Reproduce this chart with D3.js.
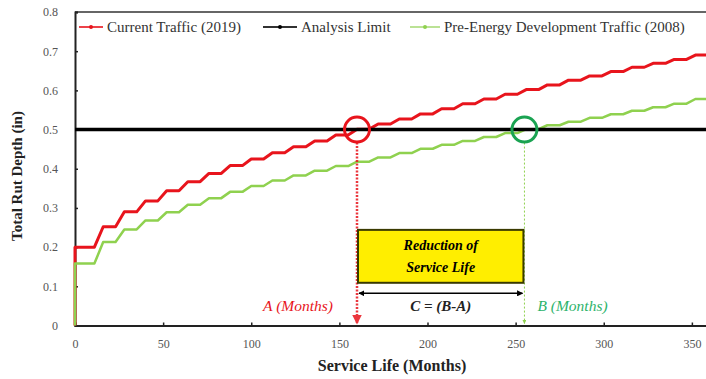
<!DOCTYPE html>
<html>
<head>
<meta charset="utf-8">
<script src="https://cdn.jsdelivr.net/npm/d3@7"></script>
<style>
  body { margin: 0; background: #fff; }
  svg text { font-family: "Liberation Serif", "Times New Roman", "DejaVu Serif", serif; }
</style>
</head>
<body>
<div id="chart"></div>
<script>
// start month of each yearly step
const months = [0, 12, 24, 36, 48, 60, 72, 84, 96, 108, 120, 132, 144, 156, 168,
  180, 192, 204, 216, 228, 240, 252, 264, 276, 288, 300, 312, 324, 336, 348];

// rut depth (in) reached in each year
const currentTraffic = [0.200, 0.252, 0.290, 0.318, 0.344, 0.367, 0.388, 0.408, 0.425, 0.441,
  0.456, 0.471, 0.486, 0.501, 0.514, 0.527, 0.540, 0.553, 0.566, 0.578,
  0.590, 0.602, 0.614, 0.626, 0.637, 0.648, 0.659, 0.669, 0.679, 0.690];
const preEnergyTraffic = [0.158, 0.213, 0.245, 0.268, 0.289, 0.308, 0.325, 0.341, 0.356, 0.370,
  0.383, 0.395, 0.407, 0.418, 0.429, 0.440, 0.451, 0.461, 0.471, 0.481,
  0.491, 0.501, 0.511, 0.520, 0.530, 0.539, 0.548, 0.557, 0.566, 0.578];

const analysisLimit = 0.5;
const monthA = 160;   // current traffic reaches the limit
const monthB = 255;   // pre-energy traffic reaches the limit
const endMonth = 360;

const xTicks = [0, 50, 100, 150, 200, 250, 300, 350];
const yTicks = [0, 0.1, 0.2, 0.3, 0.4, 0.5, 0.6, 0.7, 0.8];

const legendLabels = ["Current Traffic (2019)", "Analysis Limit", "Pre-Energy Development Traffic (2008)"];

const width = 706, height = 379;
const marge = { top: 12, left: 75, bottom: 53.5 };
const red = "#e8141c", green = "#8fd14f", greenDark = "#1aa352";
const serif = '"Liberation Serif", "Times New Roman", "DejaVu Serif", serif';

const svg = d3.select("#chart").append("svg").attr("width", width).attr("height", height)
  .attr("font-family", serif);

const x = d3.scaleLinear().domain([0, 360]).range([marge.left, marge.left + 360 * 1.7625]);
const y = d3.scaleLinear().domain([0, 0.8]).range([height - marge.bottom, marge.top]);

// frame top
svg.append("line").attr("x1", x(0)).attr("x2", width).attr("y1", y(0.8)).attr("y2", y(0.8))
  .attr("stroke", "#333").attr("stroke-width", 1.5);

// axes
const gx = svg.append("g").attr("transform", `translate(0,${y(0)})`)
  .call(d3.axisBottom(x).tickValues(xTicks).tickSize(-3).tickPadding(14).tickFormat(d3.format("d")));
const gy = svg.append("g").attr("transform", `translate(${x(0)},0)`)
  .call(d3.axisLeft(y).tickValues(yTicks).tickSize(-3).tickPadding(17).tickFormat(d => d === 0 ? "0" : d3.format(".1f")(d)));
[gx, gy].forEach(g => {
  g.attr("font-family", serif);
  g.select(".domain").attr("stroke", "#222").attr("stroke-width", 2);
  g.selectAll(".tick line").attr("stroke", "#222").attr("stroke-width", 1.5);
  g.selectAll(".tick text").attr("fill", "#555").attr("font-size", 12);
});

// step series with a sloped ramp at each yearly step
function stepPoints(vals) {
  const pts = [[0, 0], [months[0], vals[0]]];
  for (let i = 1; i < vals.length; i++) {
    pts.push([months[i] - 1, vals[i - 1]]);
    pts.push([months[i] + 4, vals[i]]);
  }
  pts.push([endMonth, vals[vals.length - 1]]);
  return pts;
}
const line = d3.line().x(d => x(d[0])).y(d => y(d[1]));

svg.append("path").datum(stepPoints(currentTraffic)).attr("d", line)
  .attr("fill", "none").attr("stroke", red).attr("stroke-width", 3).attr("stroke-linejoin", "round");
svg.append("path").datum(stepPoints(preEnergyTraffic)).attr("d", line)
  .attr("fill", "none").attr("stroke", green).attr("stroke-width", 2.5).attr("stroke-linejoin", "round");

// analysis limit
svg.append("line").attr("x1", x(0)).attr("x2", width).attr("y1", y(analysisLimit)).attr("y2", y(analysisLimit))
  .attr("stroke", "#000").attr("stroke-width", 3.5);

// arrow heads
const defs = svg.append("defs");
[["arrRed", red], ["arrGreen", green], ["arrBlack", "#000"]].forEach(([id, c]) => {
  defs.append("marker").attr("id", id).attr("viewBox", "0 0 10 10").attr("refX", 9).attr("refY", 5)
    .attr("markerWidth", 4).attr("markerHeight", 4).attr("orient", "auto-start-reverse")
    .append("path").attr("d", "M0,0L10,5L0,10z").attr("fill", c);
});

// dropped lines to the x axis
svg.append("line").attr("x1", x(monthA)).attr("x2", x(monthA)).attr("y1", y(analysisLimit) + 13).attr("y2", y(0) - 2)
  .attr("stroke", red).attr("stroke-width", 2.5).attr("stroke-dasharray", "2,1.5").attr("opacity", 0.85)
  .attr("marker-end", "url(#arrRed)");
svg.append("line").attr("x1", x(monthB)).attr("x2", x(monthB)).attr("y1", y(analysisLimit) + 13).attr("y2", y(0) - 2)
  .attr("stroke", green).attr("stroke-width", 1).attr("stroke-dasharray", "2,2").attr("marker-end", "url(#arrGreen)");

svg.append("circle").attr("cx", x(monthA)).attr("cy", y(analysisLimit)).attr("r", 12.5)
  .attr("fill", "none").attr("stroke", red).attr("stroke-width", 3);
svg.append("circle").attr("cx", x(monthB)).attr("cy", y(analysisLimit)).attr("r", 12.5)
  .attr("fill", "none").attr("stroke", greenDark).attr("stroke-width", 3);

// reduction box
svg.append("rect").attr("x", x(monthA) + 1).attr("y", y(0.244))
  .attr("width", x(monthB) - x(monthA) - 2).attr("height", y(0.109) - y(0.244))
  .attr("fill", "#ffee00").attr("stroke", "#3a3a00").attr("stroke-width", 2);
const midAB = (x(monthA) + x(monthB)) / 2;
svg.append("text").attr("x", midAB).attr("y", y(0.193)).attr("text-anchor", "middle")
  .attr("font-size", 14).attr("font-weight", "bold").attr("font-style", "italic").text("Reduction of");
svg.append("text").attr("x", midAB).attr("y", y(0.137)).attr("text-anchor", "middle")
  .attr("font-size", 14).attr("font-weight", "bold").attr("font-style", "italic").text("Service Life");

svg.append("line").attr("x1", x(monthA) + 2).attr("x2", x(monthB) - 2).attr("y1", y(0.082)).attr("y2", y(0.082))
  .attr("stroke", "#000").attr("stroke-width", 1.5)
  .attr("marker-start", "url(#arrBlack)").attr("marker-end", "url(#arrBlack)");

svg.append("text").attr("x", midAB).attr("y", y(0.038)).attr("text-anchor", "middle")
  .attr("font-size", 15).attr("font-weight", "bold").attr("font-style", "italic").attr("fill", "#222").text("C = (B-A)");
svg.append("text").attr("x", x(monthA) - 24).attr("y", y(0.038)).attr("text-anchor", "end")
  .attr("font-size", 15.5).attr("font-style", "italic").attr("fill", red).text("A (Months)");
svg.append("text").attr("x", x(monthB) + 13).attr("y", y(0.038)).attr("text-anchor", "start")
  .attr("font-size", 15.5).attr("font-style", "italic").attr("fill", "#2db36b").text("B (Months)");

// axis titles
svg.append("text").attr("x", 392).attr("y", 371).attr("text-anchor", "middle")
  .attr("font-size", 16).attr("font-weight", "bold").attr("fill", "#222").text("Service Life (Months)");
svg.append("text").attr("transform", `translate(22,176) rotate(-90)`).attr("text-anchor", "middle")
  .attr("font-size", 15).attr("font-weight", "bold").attr("fill", "#222").text("Total Rut Depth (in)");

// legend
const legendItems = [
  { label: legendLabels[0], color: red, x0: 79, x1: 103, w: 2 },
  { label: legendLabels[1], color: "#000", x0: 263, x1: 297, w: 2 },
  { label: legendLabels[2], color: green, x0: 410, x1: 440, w: 1.5 }
];
const legend = svg.append("g").attr("font-size", 15).attr("fill", "#333");
legendItems.forEach(d => {
  legend.append("line").attr("x1", d.x0).attr("x2", d.x1).attr("y1", 27).attr("y2", 27)
    .attr("stroke", d.color).attr("stroke-width", d.w).attr("opacity", 0.8);
  legend.append("circle").attr("cx", (d.x0 + d.x1) / 2).attr("cy", 27).attr("r", 2).attr("fill", d.color);
  legend.append("text").attr("x", d.x1 + 4).attr("y", 32).text(d.label);
});
</script>
</body>
</html>
